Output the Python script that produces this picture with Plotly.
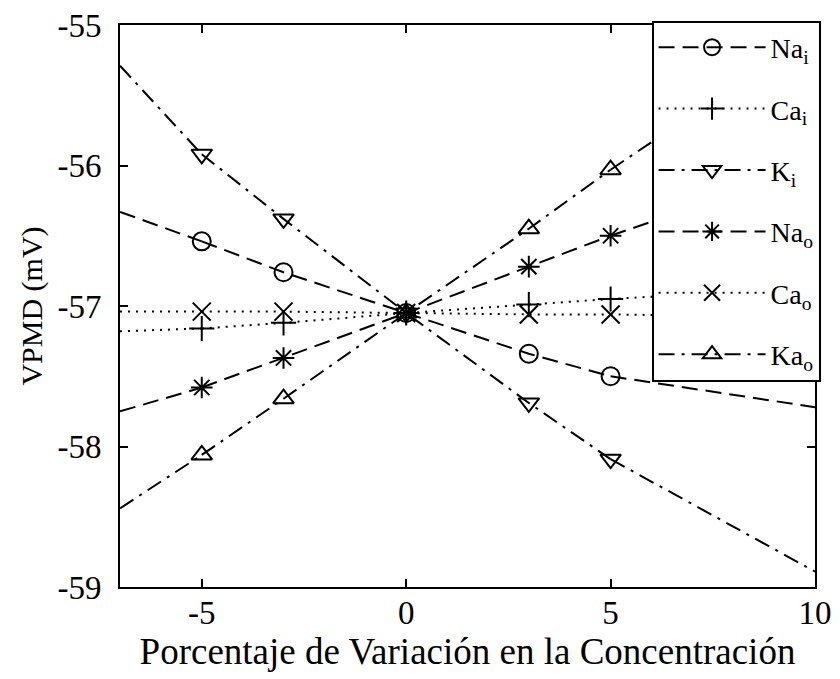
import plotly.graph_objects as go

# porcentaje de variacion (x) y VPMD en mV para cada ion
x_pct = [-7, -5, -3, 0, 3, 5, 10]
na_i = [-56.33, -56.54, -56.76, -57.05, -57.34, -57.50, -57.72]
ca_i = [-57.18, -57.16, -57.12, -57.05, -56.99, -56.95, -56.87]
k_i = [-55.29, -55.92, -56.38, -57.05, -57.69, -58.09, -58.89]
na_o = [-57.75, -57.58, -57.37, -57.05, -56.72, -56.50, -56.00]
ca_o = [-57.04, -57.04, -57.04, -57.05, -57.06, -57.06, -57.08]
ka_o = [-58.44, -58.06, -57.66, -57.05, -56.45, -56.03, -55.05]

x_ticks = [-5, 0, 5, 10]
x_ticktext = ["-5", "0", "5", "10"]
y_ticks = [-59, -58, -57, -56, -55]
y_ticktext = ["-59", "-58", "-57", "-56", "-55"]

FONT = "Liberation Serif, Times New Roman, serif"

series = [
    ("Na<sub>i</sub>", na_i, "circle-open", "16px,8px"),
    ("Ca<sub>i</sub>", ca_i, "cross-thin-open", "2px,6px"),
    ("K<sub>i</sub>", k_i, "triangle-down-open", "16px,7px,3px,7px"),
    ("Na<sub>o</sub>", na_o, "asterisk-open", "16px,8px"),
    ("Ca<sub>o</sub>", ca_o, "x-thin-open", "2px,6px"),
    ("Ka<sub>o</sub>", ka_o, "triangle-up-open", "16px,7px,3px,7px"),
]

fig = go.Figure()
for i, (name, ys, sym, dash) in enumerate(series):
    # tramos extremos sin marcadores
    fig.add_trace(go.Scatter(
        x=x_pct[0:2] + [None] + x_pct[5:7],
        y=ys[0:2] + [None] + ys[5:7],
        mode="lines",
        line=dict(color="black", width=2, dash=dash),
        showlegend=False, legendgroup=f"g{i}", hoverinfo="skip",
    ))
    fig.add_trace(go.Scatter(
        x=x_pct[1:6], y=ys[1:6],
        mode="lines+markers",
        name=name,
        legendgroup=f"g{i}",
        line=dict(color="black", width=2, dash=dash),
        marker=dict(symbol=sym, size=18, color="black",
                    line=dict(color="black", width=2)),
    ))

axis_common = dict(
    showline=True, linecolor="black", linewidth=2, mirror="ticks",
    ticks="inside", ticklen=8, tickwidth=2, tickcolor="black",
    showgrid=False, zeroline=False, automargin=False,
    ticklabeloverflow="allow",
    tickfont=dict(family=FONT, size=33, color="black"),
)

# la pagina tiene 8px de margen, asi que la figura es algo menor que la ventana
fig.update_layout(
    width=832, height=671,
    margin=dict(l=112, r=25, t=14, b=92),
    plot_bgcolor="white", paper_bgcolor="white",
    font=dict(family=FONT, color="black"),
    xaxis=dict(range=[-7, 10], tickvals=x_ticks, ticktext=x_ticktext,
               ticklabelstandoff=-5,
               title=dict(text="Porcentaje de Variación en la Concentración",
                          font=dict(family=FONT, size=37, color="black"),
                          standoff=2),
               **axis_common),
    yaxis=dict(range=[-59, -55], tickvals=y_ticks, ticktext=y_ticktext,
               ticklabelstandoff=10,
               title=dict(text="VPMD (mV)",
                          font=dict(family=FONT, size=30, color="black"),
                          standoff=6),
               **axis_common),
    legend=dict(
        x=1.008, y=1.008, xanchor="right", yanchor="top",
        bgcolor="white", bordercolor="black", borderwidth=2,
        font=dict(family=FONT, size=28, color="black"),
        itemwidth=107, tracegroupgap=22, traceorder="grouped",
        maxheight=600,
    ),
)

fig.write_html("out.html")
